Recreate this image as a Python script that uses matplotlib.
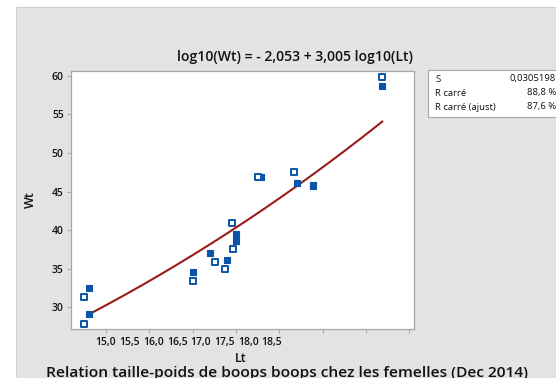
import numpy as np
import matplotlib
matplotlib.use("Agg")
import matplotlib.pyplot as plt
from matplotlib.patches import Rectangle

plt.rcParams['font.family'] = ['Open Sans', 'DejaVu Sans']

# Data
lt_filled = [14.80, 14.80, 16.00, 16.20, 16.40, 16.50, 16.50, 16.79, 17.20, 17.39, 17.39, 18.19]
wt_filled = [32.5, 29.1, 34.6, 37.0, 36.1, 38.65, 39.45, 46.9, 46.1, 45.9, 45.75, 58.7]
lt_hollow = [14.74, 14.74, 16.00, 16.26, 16.37, 16.47, 16.46, 16.76, 17.17, 18.19]
wt_hollow = [31.3, 27.8, 33.45, 35.9, 34.95, 37.55, 40.9, 46.9, 47.5, 59.85]
intercept = -2.053
slope = 3.005
xticks = [15.0, 15.5, 16.0, 16.5, 17.0, 17.5, 18.0, 18.5]
yticks = [30, 35, 40, 45, 50, 55, 60]
stats_labels = ["S", "R carré", "R carré (ajust)"]
stats_values = ["0,0305198", "88,8 %", "87,6 %"]

W, H = 556, 378
fig = plt.figure(figsize=(W / 100, H / 100), dpi=100)
fig.patch.set_facecolor('white')
fig.add_artist(Rectangle((16 / W, 0), 1 - 16 / W, 1 - 7 / H, transform=fig.transFigure,
                         facecolor='#e3e3e3', edgecolor='#d0d0d0', lw=0.8, zorder=-10))

ax = fig.add_axes([70.7 / W, 1 - 329 / H, (414.3 - 70.7) / W, (329 - 71) / H])
ax.set_facecolor('white')
ax.set_xlim(14.592, 18.56)
ax.set_ylim(27.2, 60.6)

blue = '#0a55a8'
ax.scatter(lt_filled, wt_filled, marker='s', s=20, color=blue, edgecolors=blue, linewidths=0.8, zorder=3)
ax.scatter(lt_hollow, wt_hollow, marker='s', s=20, facecolors='white', edgecolors=blue, linewidths=1.4, zorder=3)

fl = np.array(lt_filled)
xs = np.linspace(fl.min(), fl.max(), 200)
ys = 10 ** (intercept + slope * np.log10(xs))
ax.plot(xs, ys, color='#9b1b1b', lw=1.5, zorder=2)

for sp in ax.spines.values():
    sp.set_color('#a8a8a8')
    sp.set_linewidth(0.9)

ax.set_yticks(yticks)
ax.set_yticklabels([str(v) for v in yticks], fontsize=7.5, fontweight='semibold')
ax.set_xticks(xticks)
ax.set_xticklabels([])
ax.tick_params(axis='both', length=3, width=0.8, color='#a8a8a8', pad=2)
ax.tick_params(axis='y', labelsize=7.5, labelcolor='#111111')

k = 0.5 / 0.2737
sec = ax.secondary_xaxis('bottom', functions=(lambda x: 15 + (x - 15) * k,
                                              lambda s: 15 + (s - 15) / k))
sec.set_xticks(xticks)
sec.set_xticklabels([f"{v:.1f}".replace('.', ',') for v in xticks], fontsize=7.5,
                    color='#111111', fontweight='semibold')
sec.tick_params(length=0, pad=6)
sec.spines['bottom'].set_visible(False)

fig.text(295 / W, 1 - 60.5 / H, "log10(Wt) = - 2,053 + 3,005 log10(Lt)", ha='center', va='baseline',
         fontsize=10.1, color='#111111', fontweight='semibold')
fig.text(241 / W, 1 - 358 / H, "Lt", ha='center', va='center', fontsize=9, color='#111111',
         fontweight='semibold')
fig.text(30 / W, 1 - 200 / H, "Wt", ha='center', va='center', fontsize=9, rotation=90, color='#111111',
         fontweight='semibold')
fig.text(286.5 / W, 1 - 377 / H, "Relation taille-poids de boops boops chez les femelles (Dec 2014)",
         ha='center', va='baseline', fontsize=11.15, color='#111111', fontweight='semibold')

# stats box
fig.add_artist(Rectangle((428 / W, 1 - 117 / H), 140 / W, 47 / H, transform=fig.transFigure,
                         facecolor='white', edgecolor='#a8a8a8', lw=0.8))
for i, (lab, val) in enumerate(zip(stats_labels, stats_values)):
    y = 1 - (79 + i * 14) / H
    fig.text(435 / W, y, lab, ha='left', va='center', fontsize=6.8, color='#111111')
    fig.text(556 / W, y, val, ha='right', va='center', fontsize=6.8, color='#111111')

fig.savefig('out.png', dpi=100)
